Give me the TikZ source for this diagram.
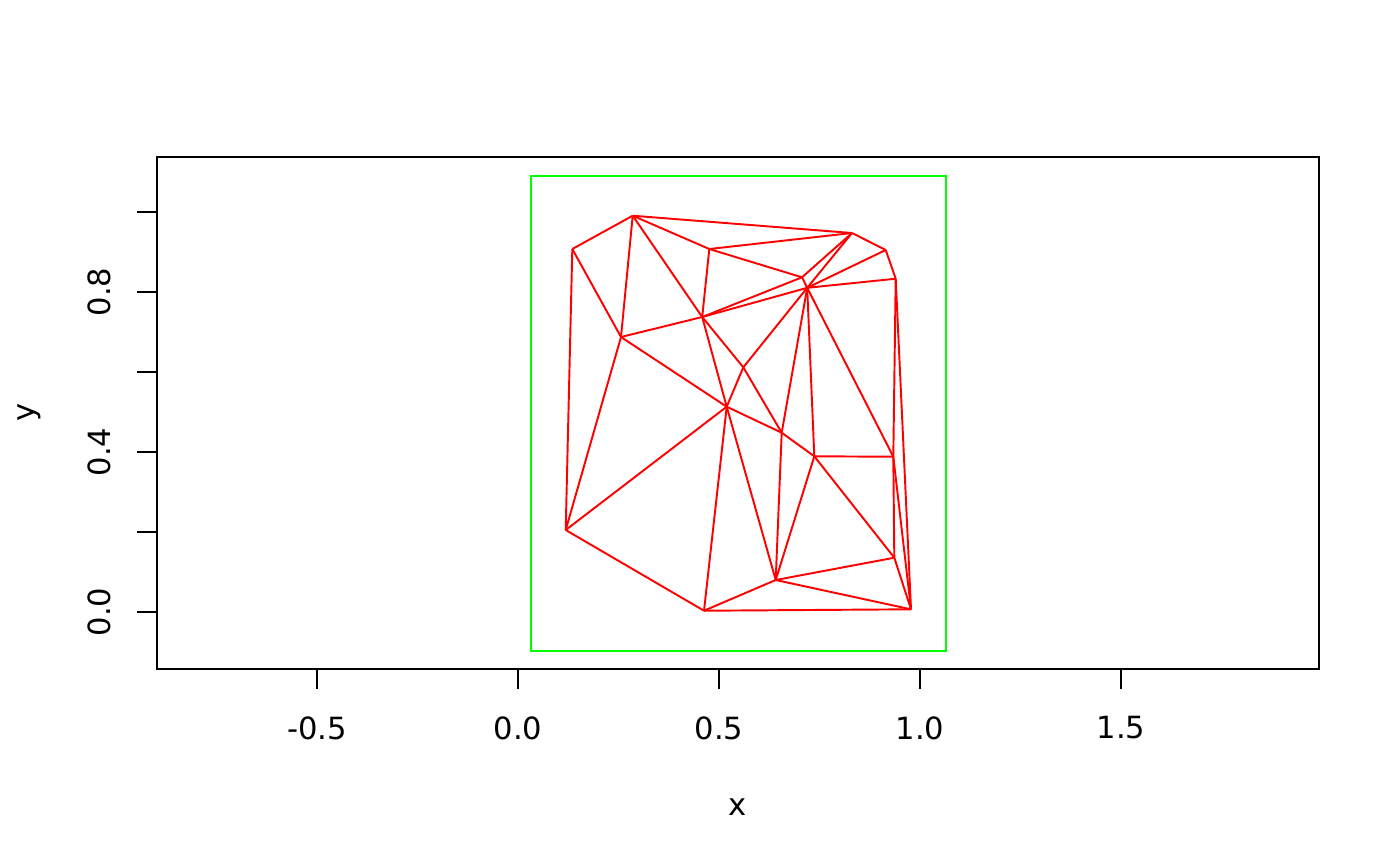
\documentclass[tikz,border=0pt]{standalone}
\usepackage{fontspec}
\setmainfont{DejaVu Sans}
\begin{document}
\begin{tikzpicture}[x=0.01cm,y=-0.01cm,font=\fontsize{8.7}{10}\selectfont,
  edge/.style={red,line width=0.55pt},
  axisline/.style={black,line width=0.55pt},
  hull/.style={green,line width=0.55pt},
  lbl/.style={inner sep=0pt}]
\useasboundingbox (0,0) rectangle (1400,866);
% plot frame
\draw[axisline] (157,157) rectangle (1319,669);
% x axis
\foreach \px/\t [count=\i] in {317/-0.5,518/0.0,719/0.5,920/1.0,1121/1.5}{
  \coordinate (xt\i a) at (\px,669);
  \coordinate (xt\i b) at (\px,689);
  \draw[axisline] (xt\i a) -- (xt\i b);
  \node[lbl] (xl\i) at (\px,728) {\t};
}
% y axis
\foreach \py [count=\i] in {612,532,452,372,292,212}{
  \coordinate (yt\i a) at (157,\py);
  \coordinate (yt\i b) at (137,\py);
  \draw[axisline] (yt\i a) -- (yt\i b);
}
\node[lbl,rotate=90] (yl1) at (99,612) {0.0};
\node[lbl,rotate=90] (yl2) at (99,452) {0.4};
\node[lbl,rotate=90] (yl3) at (99,292) {0.8};
\node[lbl] (xlab) at (738,807) {x};
\node[lbl,rotate=90] (ylab) at (29.5,412) {y};
% green box
\draw[hull] (531,176) rectangle (946,651);
% vertices
\coordinate (A) at (632.7,215.7);
\coordinate (B) at (572.3,249);
\coordinate (C) at (852,233);
\coordinate (D) at (709.3,249);
\coordinate (E) at (885.7,250);
\coordinate (F) at (895.7,278.7);
\coordinate (G) at (802,277.3);
\coordinate (H) at (807.2,287.8);
\coordinate (I) at (702.2,317);
\coordinate (J) at (621,337);
\coordinate (K) at (743.3,367.3);
\coordinate (L) at (726.7,406.7);
\coordinate (M) at (781.7,432.7);
\coordinate (N) at (814.3,456.3);
\coordinate (O) at (893.3,456.7);
\coordinate (P) at (565.7,530);
\coordinate (Q) at (894.3,557.7);
\coordinate (R) at (775.7,580);
\coordinate (S) at (911,609.3);
\coordinate (T) at (704,610.7);
% edges
\foreach \a/\b in {A/B,A/C,A/D,A/I,A/J,B/J,B/P,C/D,C/G,C/H,C/E,D/G,D/I,
  E/F,E/H,F/H,F/O,F/S,G/H,G/I,H/I,H/K,H/M,H/N,H/O,I/J,I/K,I/L,J/L,J/P,
  K/L,K/M,L/M,L/P,L/T,L/R,M/N,M/R,N/O,N/R,N/Q,O/Q,O/S,P/T,Q/R,Q/S,R/S,R/T,S/T}
  \draw[edge,line join=round] (\a) -- (\b);
\end{tikzpicture}
\end{document}
